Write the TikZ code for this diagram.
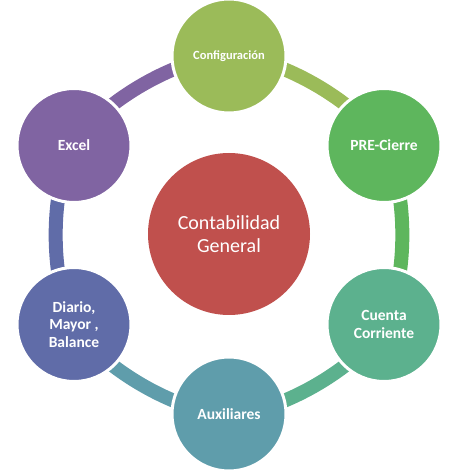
\documentclass[tikz,border=0pt]{standalone}
\usepackage{fontspec}
\setmainfont{Carlito}
\usetikzlibrary{backgrounds}

\definecolor{hubRed}{RGB}{192,80,77}
\definecolor{cfgGreen}{RGB}{155,187,89}
\definecolor{preGreen}{RGB}{94,182,93}
\definecolor{ctaGreen}{RGB}{92,177,142}
\definecolor{auxTeal}{RGB}{95,157,171}
\definecolor{diaBlue}{RGB}{96,108,168}
\definecolor{excPurple}{RGB}{128,100,162}

\begin{document}
\begin{tikzpicture}[x=1pt,y=1pt,
    stage/.style={circle, draw=white, line width=3pt, minimum size=114pt,
      inner sep=0pt, align=center, text=white,
      font=\bfseries\fontsize{15.5}{17.5}\selectfont},
    ring/.style={line width=14pt, bend left=30, looseness=0.7}]
    \useasboundingbox (0,0) rectangle (454,473);
    \node [circle, fill=hubRed, minimum size=162pt, inner sep=0pt, align=center,
      text=white, font=\fontsize{20}{23.5}\selectfont] (hub) at (229,239)
      {Contabilidad\\General};
    \node [stage, fill=cfgGreen, font=\bfseries\fontsize{12.5}{14}\selectfont]
      (config) at (229,417) {Configuración};
    \node [stage, fill=preGreen] (precierre) at (384,327.5) {PRE-Cierre};
    \node [stage, fill=ctaGreen] (cuenta) at (384,148.5) {Cuenta\\Corriente};
    \node [stage, fill=auxTeal] (aux) at (229,59) {Auxiliares};
    \node [stage, fill=diaBlue] (diario) at (74,148.5) {Diario,\\Mayor ,\\Balance};
    \node [stage, fill=excPurple] (excel) at (74,327.5) {Excel};
    \begin{pgfonlayer}{background}
      \draw [ring, excPurple] (excel.center) to (config.center);
      \draw [ring, cfgGreen] (config.center) to (precierre.center);
      \draw [ring, preGreen] (precierre.center) to (cuenta.center);
      \draw [ring, ctaGreen] (cuenta.center) to (aux.center);
      \draw [ring, auxTeal] (aux.center) to (diario.center);
      \draw [ring, diaBlue] (diario.center) to (excel.center);
    \end{pgfonlayer}
\end{tikzpicture}
\end{document}
